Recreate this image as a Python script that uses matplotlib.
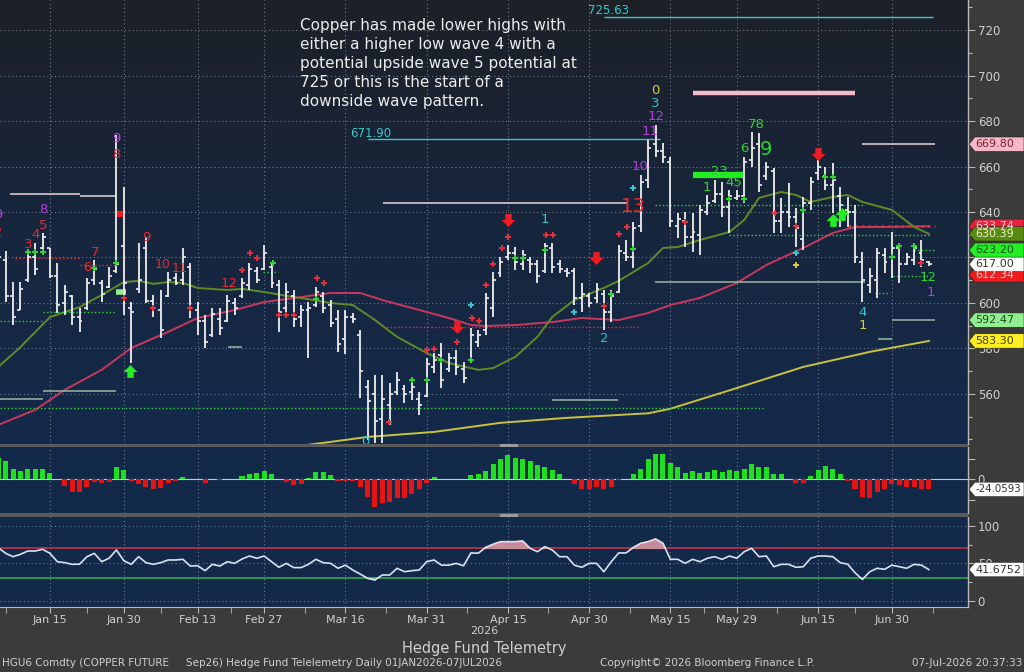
import numpy as np
import pandas as pd
import matplotlib
matplotlib.use("Agg")
import matplotlib.pyplot as plt
from matplotlib.colors import LinearSegmentedColormap
from matplotlib.patches import Polygon, Rectangle
from matplotlib.path import Path
import matplotlib.transforms as mtransforms

# ---------------------------------------------------------------- calendar
HOLIDAYS = ["2026-01-01", "2026-01-19", "2026-02-16", "2026-05-25", "2026-06-19"]
dates = pd.bdate_range("2026-01-02", "2026-07-07")
dates = dates[~dates.isin(pd.to_datetime(HOLIDAYS))]
FIRST = 2  # first session drawn (Jan 6)

# ---------------------------------------------------------------- HGU6 daily bars
opens = [612, 619, 603, 597, 610, 620, 624, 624, 612, 600,
         603, 594, 598, 610, 609, 607, 614, 625, 598, 606,
         624, 601, 597, 603, 611, 610, 616, 597, 592, 586,
         593, 592, 600, 603, 608, 614, 615, 616, 608, 598,
         603, 594, 597, 599, 603, 599, 593, 584, 594, 586,
         563, 560, 549, 555, 561, 562, 561, 558, 559, 572,
         577, 571, 576, 571, 575, 583, 588, 598, 613, 620,
         622, 617, 619, 617, 614, 624, 617, 614, 614, 602,
         603, 602, 604, 596, 605, 622, 620, 634, 654, 670,
         667, 662, 634, 636, 629, 630, 640, 645, 648, 642,
         646, 647, 663, 670, 656, 658, 636, 640, 638, 628,
         644, 657, 656, 652, 647, 641, 640, 618, 608, 610,
         621, 620, 624, 617, 619, 622, 618]
highs = [624, 622.9, 609.2, 609.2, 623.3, 626.4, 630.8, 624.2, 617.6, 607.9,
         603.5, 597.8, 611.0, 618.9, 610.1, 615.8, 673.8, 651.0, 600.4, 626.4,
         629.0, 603.5, 605.7, 613.6, 613.2, 624.2, 617.6, 600.4, 594.7, 597.8,
         597.8, 603.5, 602.2, 611.0, 617.6, 615.8, 625.5, 618.0, 610.1, 608.8,
         605.7, 599.1, 600.4, 607.0, 604.8, 601.3, 596.9, 596.9, 595.6, 588.1,
         566.2, 568.4, 568.4, 564.8, 569.7, 563.9, 566.2, 560.9, 575.8, 578.0,
         582.4, 578.0, 579.3, 574.1, 589.0, 588.1, 604.4, 613.6, 620.2, 625.5,
         624.6, 623.3, 620.2, 618.9, 626.4, 626.4, 618.9, 615.4, 615.4, 608.8,
         604.4, 608.8, 605.7, 605.7, 625.5, 627.7, 635.6, 656.3, 671.6, 678.2,
         670.3, 664.2, 639.6, 640.0, 639.6, 643.1, 647.5, 654.1, 653.2, 649.7,
         649.7, 664.2, 675.2, 674.7, 662.0, 659.4, 646.2, 652.8, 641.8, 646.6,
         655.4, 662.9, 659.8, 661.5, 651.0, 646.6, 643.1, 622.4, 615.4, 624.2,
         624.2, 631.2, 625.5, 622.0, 626.4, 627.7, 618.5]
lows = [606, 600.4, 590.3, 596.9, 609.2, 612.3, 622.0, 611.0, 595.6, 594.7,
        590.3, 587.3, 596.9, 607.9, 600.4, 606.6, 613.2, 594.7, 573.6, 604.4,
        600.0, 593.8, 584.6, 602.6, 607.9, 607.9, 593.4, 585.9, 580.2, 585.1,
        585.9, 591.6, 594.7, 602.2, 605.7, 608.8, 614.5, 606.6, 587.3, 595.6,
        589.5, 589.5, 575.8, 598.2, 595.6, 589.5, 578.5, 577.6, 591.2, 558.2,
        539.8, 538.5, 538.5, 546.4, 559.6, 556.1, 557.4, 550.8, 558.7, 569.2,
        562.6, 569.7, 568.4, 564.8, 573.6, 580.6, 585.9, 593.8, 611.4, 618.9,
        614.5, 614.5, 613.2, 608.8, 613.2, 613.2, 613.2, 611.4, 599.1, 596.0,
        598.2, 600.0, 588.1, 591.6, 604.4, 618.5, 615.4, 631.2, 650.6, 664.2,
        661.5, 633.4, 628.6, 624.6, 622.4, 621.1, 638.7, 644.0, 637.8, 630.8,
        645.3, 644.0, 659.8, 648.8, 654.1, 630.8, 630.8, 633.4, 624.6, 623.3,
        640.9, 654.1, 649.7, 639.6, 633.4, 633.4, 617.6, 600.4, 604.4, 602.2,
        613.2, 611.0, 608.8, 616.7, 616.7, 615.8, 616.2]
closes = [620, 603, 594, 606, 620, 615, 629, 612, 599, 605,
          594, 592, 609, 615, 604, 612, 617, 609, 596, 610,
          601, 598, 588, 610, 609, 620, 598, 592, 583, 595,
          589, 601, 598, 609, 615, 610, 622, 609, 596, 605,
          593, 597, 598, 605, 598, 591, 582, 594, 593, 570,
          557, 548, 558, 560, 566, 560, 563, 555, 573, 575,
          566, 576, 572, 567, 586, 586, 602, 610, 618, 622,
          618, 621, 617, 612, 625, 616, 615, 613, 602, 604,
          600, 606, 596, 603, 623, 620, 633, 653, 668, 667,
          664, 636, 637, 629, 631, 641, 644, 648, 642, 647,
          647, 662, 668, 652, 660, 636, 640, 638, 633, 644,
          653, 660, 652, 654, 643, 640, 620, 610, 612, 622,
          618, 624, 617, 620, 624, 619, 617.0]

# momentum histogram and RSI, one value per session
momentum = [51, 45, 26, 20, 26, 24, 24, 16, 1, -16,
            -30, -30, -18, -6, -8, -6, 29, 22, -3, -10,
            -18, -24, -20, -8, -3, 5, 0, 0, -8, 0,
            -2, 0, 0, 8, 14, 16, 21, 14, 0, -6,
            -14, -10, 3, 18, 18, 10, -5, -3, -3, -19,
            -42, -66, -58, -55, -46, -46, -36, -24, -8, 5,
            0, 0, 2, 0, 10, 12, 21, 37, 50, 58,
            52, 50, 44, 34, 30, 22, 14, 0, -11, -24,
            -24, -18, -22, -18, -2, 0, 12, 26, 48, 62,
            60, 40, 29, 16, 20, 16, 18, 22, 18, 22,
            20, 26, 37, 30, 30, 14, 12, 2, -8, -8,
            8, 22, 33, 25, 12, -3, -22, -42, -46, -30,
            -24, -12, -14, -19, -19, -22, -24.0593]
rsi = [71.0, 63.4, 58.9, 62.1, 66.5, 66.5, 68.8, 63.4, 52.2, 50.9,
       48.7, 48.9, 58.9, 63.4, 52.2, 56.8, 67.9, 53.5, 48.7, 58.9,
       50.9, 48.7, 50.9, 54.5, 54.5, 55.4, 46.4, 46.8, 40.2, 48.7,
       46.4, 52.2, 50.0, 55.8, 59.8, 56.8, 59.8, 52.2, 44.7, 50.0,
       44.3, 44.3, 48.7, 55.4, 50.9, 50.0, 43.4, 47.6, 41.1, 35.7,
       30.0, 27.8, 34.4, 34.4, 43.4, 38.8, 40.2, 41.1, 52.2, 54.5,
       47.6, 47.6, 50.0, 46.8, 63.9, 63.6, 71.4, 75.5, 79.0, 79.0,
       79.0, 79.9, 70.1, 65.6, 72.3, 67.9, 58.9, 58.9, 47.6, 44.7,
       50.0, 50.0, 38.8, 52.2, 63.9, 63.9, 71.4, 76.8, 79.0, 82.6,
       76.8, 55.4, 55.4, 50.0, 55.4, 52.2, 56.8, 58.9, 55.4, 59.8,
       56.8, 65.6, 70.1, 58.9, 59.8, 45.5, 48.7, 48.7, 44.7, 45.5,
       56.8, 59.8, 59.8, 58.9, 50.9, 48.9, 37.5, 28.5, 38.8, 43.4,
       42.0, 47.6, 45.5, 43.4, 48.7, 47.6, 41.6752]

# moving averages (session index, value)
ma_fast_idx = [2, 5, 9, 13, 16, 19, 21, 23, 25, 27, 29, 33, 35, 38, 42, 43, 47, 50, 53, 56,
               60, 63, 67, 69, 72, 75, 77, 80, 84, 86, 90, 92, 94, 97, 101, 103, 105, 108,
               110, 112, 115, 117, 119, 123, 126, 128]
ma_fast_val = [571.9, 580.6, 593.8, 598.2, 603.5, 609.2, 609.7, 608.4, 609.2, 608.8,
               606.6, 605.7, 606.2, 604.8, 602.6, 602.2, 600.0, 599.1, 592.5, 585.1,
               578.0, 573.6, 570.6, 571.4, 576.3, 585.1, 593.8, 601.3, 606.6, 609.7,
               617.6, 624.2, 624.6, 627.7, 631.2, 636.5, 646.2, 648.8, 647.5, 644.4,
               646.6, 647.5, 644.4, 640.9, 633.4, 630.39]
ma_mid_idx = [2, 7, 11, 16, 20, 25, 29, 34, 38, 43, 47, 51, 54, 59, 63, 66, 68, 72, 77, 81,
              86, 90, 93, 97, 102, 106, 111, 115, 118, 122, 128]
ma_mid_val = [546.4, 553.0, 561.8, 570.6, 580.2, 587.3, 593.4, 596.9, 600.4, 602.6,
              604.4, 604.4, 601.3, 596.9, 593.4, 590.3, 589.9, 590.3, 591.6, 593.4,
              592.5, 595.6, 599.1, 602.2, 608.8, 616.7, 624.2, 630.8, 633.4, 633.4, 633.74]
ma_slow_idx = [40, 46, 52, 61, 70, 79, 90, 93, 102, 111, 120, 128]
ma_slow_val = [536.0, 538.5, 541.1, 543.3, 547.3, 549.5, 551.5, 553.5, 562.6, 571.9, 578.5, 583.3]

# price levels: (start session, end session, price, colour, width, style)
levels = [
    (84, 128.5, 725.63, "#38c8c8", 1.0, "-"),
    (52, 91.6, 671.90, "#38c8c8", 1.0, "-"),
    (96, 118, 692.3, "#f4bccb", 3.2, "-"),
    (3.6, 13.1, 647.9, "#d9c7d0", 1.2, "-"),
    (13.1, 17.9, 647.0, "#d9c7d0", 1.2, "-"),
    (54.1, 87.3, 644.0, "#d9c7d0", 1.2, "-"),
    (119, 128.8, 669.8, "#d9c7d0", 1.2, "-"),
    (90.9, 119.3, 609.2, "#8fab9c", 1.2, "-"),
    (123, 128.8, 592.47, "#8fab9c", 1.2, "-"),
    (77, 85.9, 557.4, "#8fab9c", 1.2, "-"),
    (8.1, 17.9, 561.3, "#8fab9c", 1.2, "-"),
    (2.2, 8.1, 557.8, "#8fab9c", 1.2, "-"),
    (33.1, 35, 580.6, "#8fab9c", 1.2, "-"),
    (121.1, 123, 584.2, "#8fab9c", 1.2, "-"),
    (2.2, 105.8, 553.9, "#2fd23f", 1.0, ":"),
    (2.2, 8.1, 592.1, "#2fd23f", 1.0, ":"),
    (8.1, 17.9, 596.1, "#2fd23f", 1.0, ":"),
    (90.9, 119.3, 643.1, "#2fd23f", 1.0, ":"),
    (101, 128.2, 629.9, "#2fd23f", 1.0, ":"),
    (126, 128.8, 623.2, "#2fd23f", 1.0, ":"),
    (123.1, 128.2, 611.9, "#2fd23f", 1.0, ":"),
    (120.7, 122.7, 604.4, "#2fd23f", 1.0, ":"),
    (37.8, 39.9, 613.6, "#2fd23f", 1.0, ":"),
    (4.3, 13.1, 619.8, "#e0303a", 1.0, ":"),
    (13.1, 17.8, 616.7, "#e0303a", 1.0, ":"),
    (54.1, 88.9, 589.5, "#e0303a", 1.0, ":"),
    (117, 128.8, 633.74, "#e0303a", 1.8, ":"),
    (96.1, 103, 656.3, "#22ee22", 4.5, "-"),
    (18.0, 19.3, 604.8, "#90ee90", 4.0, "-"),
    (17.9, 19.0, 638.9, "#ee1c1c", 4.5, "-"),
]

# sequential counts: (text, session, price, colour, size)
counts = [
    ("9", 18, 672.5, "purple", 9.5), ("8", 18, 665.1, "red", 9.5),
    ("8", 8.1, 640.9, "purple", 9.5), ("5", 8.1, 633.9, "red", 9.5),
    ("4", 7, 629.9, "red", 9.5), ("3", 6, 625.9, "red", 9.5),
    ("2", 2.0, 630.8, "red", 9.5), ("9", 2.0, 638.7, "purple", 9.5),
    ("7", 15.1, 622.4, "red", 9.5), ("6", 14, 615.4, "red", 9.5),
    ("9", 22.1, 629.0, "red", 9.5), ("10", 24.2, 617.0, "red", 9.0),
    ("11", 26.6, 615.0, "red", 9.0), ("12", 33.2, 608.4, "red", 9.5),
    ("13", 88, 642.2, "red", 14), ("10", 88.9, 660.2, "purple", 9.5),
    ("11", 90.2, 675.6, "purple", 9.5), ("12", 91, 682.2, "purple", 9.5),
    ("3", 91, 687.9, "cyan", 9.5), ("0", 91, 693.6, "yellow", 9.5),
    ("1", 76, 636.5, "cyan", 9.5), ("2", 84, 584.6, "cyan", 9.5),
    ("1", 98, 650.6, "green", 9.5), ("23", 99.6, 657.6, "green", 9.5),
    ("45", 101.6, 652.8, "green", 9.5), ("6", 103, 668.1, "green", 9.5),
    ("78", 104.6, 678.3, "green", 9.5), ("9", 106, 667.3, "green", 14),
    ("4", 119, 596.0, "cyan", 9.5), ("1", 119, 589.9, "yellow", 9.5),
    ("12", 127.9, 611.4, "green", 9.5), ("1", 128.2, 604.4, "purple", 9.5),
    ("0", 51.7, 539.3, "cyan", 9.5),
]
count_colours = {"red": "#e8282c", "purple": "#b23ed8", "cyan": "#30c4c8",
                 "green": "#2cd42c", "yellow": "#d4cf44"}

# signal arrows (session, price)
sell_arrows = [(71, 636.5), (64.1, 589.5), (82.9, 619.8), (113, 665.5)]
buy_arrows = [(19.8, 570.1), (115, 636.5), (116.2, 639.1)]

# small setup marks (session, price)
red_marks = [(45.2, 611.0), (46.1, 608.8), (60, 579.3), (61, 579.8), (54.9, 547.7),
             (64.1, 582.9), (66.1, 593.4), (67.1, 592.1), (68, 607.9), (69, 617.2),
             (70.2, 624.2), (71, 629.0), (76.2, 629.9), (77.1, 629.9), (86, 630.3),
             (87.1, 633.4), (84, 598.7), (36.1, 622.0), (37, 619.8), (35, 614.5),
             (19, 602.2), (23, 597.8), (28, 597.8), (95, 635.6), (107.2, 639.6),
             (110, 633.9), (127, 617.6), (40, 594.7), (41, 594.7), (42, 594.7)]
green_marks = [(6, 622.4), (7, 622.4), (8, 622.4), (15, 615.4), (18, 617.6), (39.2, 617.6),
               (45, 601.8), (58, 566.2), (60, 566.2), (62, 575.0), (66, 575.0), (72, 619.8),
               (73, 619.8), (76, 623.3), (85, 604.0), (88, 623.7), (101, 645.7), (103, 645.7),
               (111, 640.9), (114, 655.4), (115, 655.4), (123, 620.2), (124, 625.1), (126, 625.1)]
cyan_marks = [(66, 599.1), (80, 596.1), (88, 650.6), (110, 622.0)]
yellow_marks = [(110, 616.7)]

# value tags on the price scale: (value, text, background, text colour)
price_tags = [
    (669.80, "669.80", "#f6b7c9", "#7a2233"),
    (633.74, "633.74", "#e8203a", "#ffd8d8"),
    (612.34, "612.34", "#ee1c1c", "#ffdede"),
    (630.39, "630.39", "#5a8a12", "#e8f4c8"),
    (623.20, "623.20", "#22ee22", "#1a4a1a"),
    (617.00, "617.00", "#ffffff", "#333333"),
    (592.47, "592.47", "#90ee90", "#1f4a1f"),
    (583.30, "583.30", "#ffee22", "#454000"),
]

tick_dates = ["2026-01-15", "2026-01-30", "2026-02-13", "2026-02-27", "2026-03-16",
              "2026-03-31", "2026-04-15", "2026-04-30", "2026-05-15", "2026-05-29",
              "2026-06-15", "2026-06-30"]

note = ("Copper has made lower highs with\n"
        "either a higher low wave 4 with a\n"
        "potential upside wave 5 potential at\n"
        "725 or this is the start of a\n"
        "downside wave pattern.")

# ---------------------------------------------------------------- layout
W, H = 1024, 672
RIGHT = 968
plt.rcParams["font.family"] = ["DejaVu Sans"]
fig = plt.figure(figsize=(W / 100, H / 100), dpi=100, facecolor="#3b3b3b")


def panel(top, bottom):
    return fig.add_axes([0, 1 - bottom / H, RIGHT / W, (bottom - top) / H])


ax = panel(0, 444)
axh = panel(447, 513)
axr = panel(517, 607)

x = np.arange(FIRST, FIRST + len(closes))
XLIM = (2.234, 133.3)
tick_idx = [dates.get_loc(pd.Timestamp(d)) for d in tick_dates]
tick_lab = [pd.Timestamp(d).strftime("%b %d") for d in tick_dates]
minor_idx = [3] + [(a + b) / 2 for a, b in zip(tick_idx[:-1], tick_idx[1:])] + [128.5]

grid_kw = dict(color="#8896a8", linestyle=(0, (1, 2.5)), linewidth=0.8, alpha=0.75)
TXT = "#cfcfcf"

# background of the price panel: charcoal at the top fading to navy
bg = LinearSegmentedColormap.from_list("bg", ["#142a4b", "#17263d", "#1d2027"])
ax.imshow(np.linspace(0, 1, 256).reshape(-1, 1), extent=[0, 1, 0, 1], transform=ax.transAxes,
          cmap=bg, aspect="auto", origin="lower", zorder=0, interpolation="bilinear")
for a in (axh, axr):
    a.set_facecolor("#13294a")

for a in (ax, axh, axr):
    a.set_xlim(*XLIM)
    a.set_xticks(tick_idx)
    a.set_xticks(minor_idx, minor=True)
    a.grid(True, axis="x", which="major", **grid_kw)
    for s in ("left", "top", "bottom"):
        a.spines[s].set_visible(False)
    a.spines["right"].set_color("#b8b8b8")
    a.spines["right"].set_linewidth(1.0)
    a.yaxis.tick_right()
    a.tick_params(axis="y", which="both", direction="out", colors="#b8b8b8",
                  labelcolor=TXT, labelsize=8.5, width=0.8)
    a.tick_params(axis="y", which="major", length=5, pad=2)
    a.tick_params(axis="y", which="minor", length=3)
    a.set_axisbelow(True)

for a in (ax, axh):
    a.tick_params(axis="x", which="both", length=0, labelbottom=False)

# ---------------------------------------------------------------- price panel
ax.set_ylim(538.0, 733.2)
ax.set_yticks(np.arange(560, 721, 20))
ax.set_yticks(np.arange(540, 731, 10), minor=True)
ax.grid(True, axis="y", which="major", **grid_kw)

ax.plot(ma_slow_idx, ma_slow_val, color="#c8c23c", lw=1.4, zorder=3)
ax.plot(ma_mid_idx, ma_mid_val, color="#c8385c", lw=1.4, zorder=3)
ax.plot(ma_fast_idx, ma_fast_val, color="#5f8a28", lw=1.4, zorder=3)

for x0, x1, p, c, lw, ls in levels:
    ax.hlines(p, x0, x1, colors=c, linewidth=lw, linestyles=ls, zorder=4)

bar_col = "#eeeeee"
ax.vlines(x, lows, highs, color=bar_col, lw=1.3, zorder=5)
ax.hlines(opens, x - 0.4, x, color=bar_col, lw=1.2, zorder=5)
ax.hlines(closes, x, x + 0.4, color=bar_col, lw=1.2, zorder=5)

mk = dict(linestyle="none", marker="+", markersize=4.5, markeredgewidth=1.4, zorder=6)
ax.plot(*zip(*red_marks), color="#e8303a", **mk)
ax.plot(*zip(*green_marks), color="#36d236", **mk)
ax.plot(*zip(*cyan_marks), color="#36c8d0", **mk)
ax.plot(*zip(*yellow_marks), color="#d8d040", **mk)

down_arrow = Path([(-0.3, 0.6), (0.3, 0.6), (0.3, 0.05), (0.65, 0.05), (0, -0.6),
                   (-0.65, 0.05), (-0.3, 0.05), (-0.3, 0.6)], closed=True)
up_arrow = Path([(px, -py) for px, py in down_arrow.vertices], closed=True)
ax.plot(*zip(*sell_arrows), linestyle="none", marker=down_arrow, markersize=10,
        color="#ee1c24", markeredgewidth=0, zorder=7)
ax.plot(*zip(*buy_arrows), linestyle="none", marker=up_arrow, markersize=10,
        color="#22ee22", markeredgewidth=0, zorder=7)

for txt, i, p, c, size in counts:
    ax.text(i, p, txt, color=count_colours[c], fontsize=size, ha="center", va="center",
            zorder=6, clip_on=True)

ax.text(81.9, 728.6, "725.63", color="#38c8c8", fontsize=8.5, ha="left", va="center", zorder=6)
ax.text(49.6, 674.6, "671.90", color="#38c8c8", fontsize=8.5, ha="left", va="center", zorder=6)

# ---------------------------------------------------------------- momentum histogram
mom = np.array(momentum)
axh.set_ylim(-81, 78)
axh.bar(x, mom, width=0.68, color=np.where(mom >= 0, "#1fe01f", "#e81414"), zorder=3)
axh.axhline(0, color="#c8c8c8", lw=0.8, zorder=2)
axh.set_yticks([-50, 0, 50])
axh.set_yticklabels(["", "0", ""])

# ---------------------------------------------------------------- RSI
r = np.array(rsi)
axr.set_ylim(-8.4, 112)
axr.set_yticks([0, 50, 100])
axr.set_yticks([25, 75], minor=True)
axr.grid(True, axis="y", which="major", **grid_kw)
axr.axhline(70, color="#b8304a", lw=1.3, zorder=2)
axr.axhline(30, color="#2e9e48", lw=1.3, zorder=2)
axr.fill_between(x, r, 70, where=r > 70, interpolate=True, color="#c88c98", zorder=3)
axr.fill_between(x, r, 30, where=r < 30, interpolate=True, color="#58c070", zorder=3)
axr.plot(x, r, color="#d8e2ee", lw=1.2, zorder=4)

axr.spines["bottom"].set_visible(True)
axr.spines["bottom"].set_color("#b8b8b8")
axr.set_xticklabels(tick_lab)
axr.tick_params(axis="x", which="both", direction="out", colors="#b8b8b8",
                labelcolor=TXT, labelsize=8)
axr.tick_params(axis="x", which="major", length=4, pad=2)
axr.tick_params(axis="x", which="minor", length=4)

# ---------------------------------------------------------------- frame details
for top, bottom in ((444, 447), (513, 517)):
    fig.add_artist(Rectangle((0, 1 - bottom / H), RIGHT / W, (bottom - top) / H,
                             transform=fig.transFigure, facecolor="#5a5a5a", edgecolor="none"))
    fig.add_artist(Rectangle((500 / W, 1 - (bottom - 0.5) / H), 18 / W, 2.5 / H,
                             transform=fig.transFigure, facecolor="#9a9a9a", edgecolor="none"))

ident = mtransforms.IdentityTransform()


def value_tag(axis, value, text, face, ink, half=7.2, size=8.0):
    yp = axis.transData.transform((XLIM[0], value))[1]
    tip, body = RIGHT + 1, RIGHT + 7
    fig.add_artist(Polygon([(tip, yp), (body, yp + half), (W, yp + half), (W, yp - half),
                            (body, yp - half)], closed=True, transform=ident,
                           facecolor=face, edgecolor="#222222", linewidth=0.4))
    fig.text(body, yp, text, transform=ident, color=ink, fontsize=size,
             ha="left", va="center")


for v, t, face, ink in price_tags:
    value_tag(ax, v, t, face, ink)
value_tag(axh, momentum[-1], "-24.0593", "#ffffff", "#333333", size=7.4)
value_tag(axr, rsi[-1], "41.6752", "#ffffff", "#333333")

fig.text(300 / W, 1 - 18 / H, note, color="#ececec", fontsize=11, ha="left", va="top",
         linespacing=1.33)

fig.text(484 / W, 1 - 631 / H, "2026", color=TXT, fontsize=8, ha="center", va="center")
fig.text(484 / W, 1 - 648 / H, "Hedge Fund Telemetry", color=TXT, fontsize=10.5,
         ha="center", va="center")
foot = dict(color=TXT, fontsize=7.5, va="center")
fig.text(2 / W, 1 - 663 / H, "HGU6 Comdty (COPPER FUTURE", ha="left", **foot)
fig.text(186 / W, 1 - 663 / H, "Sep26) Hedge Fund Telelemetry Daily 01JAN2026-07JUL2026",
         ha="left", **foot)
fig.text(600 / W, 1 - 663 / H, "Copyright\u00a9 2026 Bloomberg Finance L.P.", ha="left", **foot)
fig.text(1022 / W, 1 - 663 / H, "07-Jul-2026 20:37:33", ha="right", **foot)

fig.savefig("out.png", dpi=100, facecolor=fig.get_facecolor())
